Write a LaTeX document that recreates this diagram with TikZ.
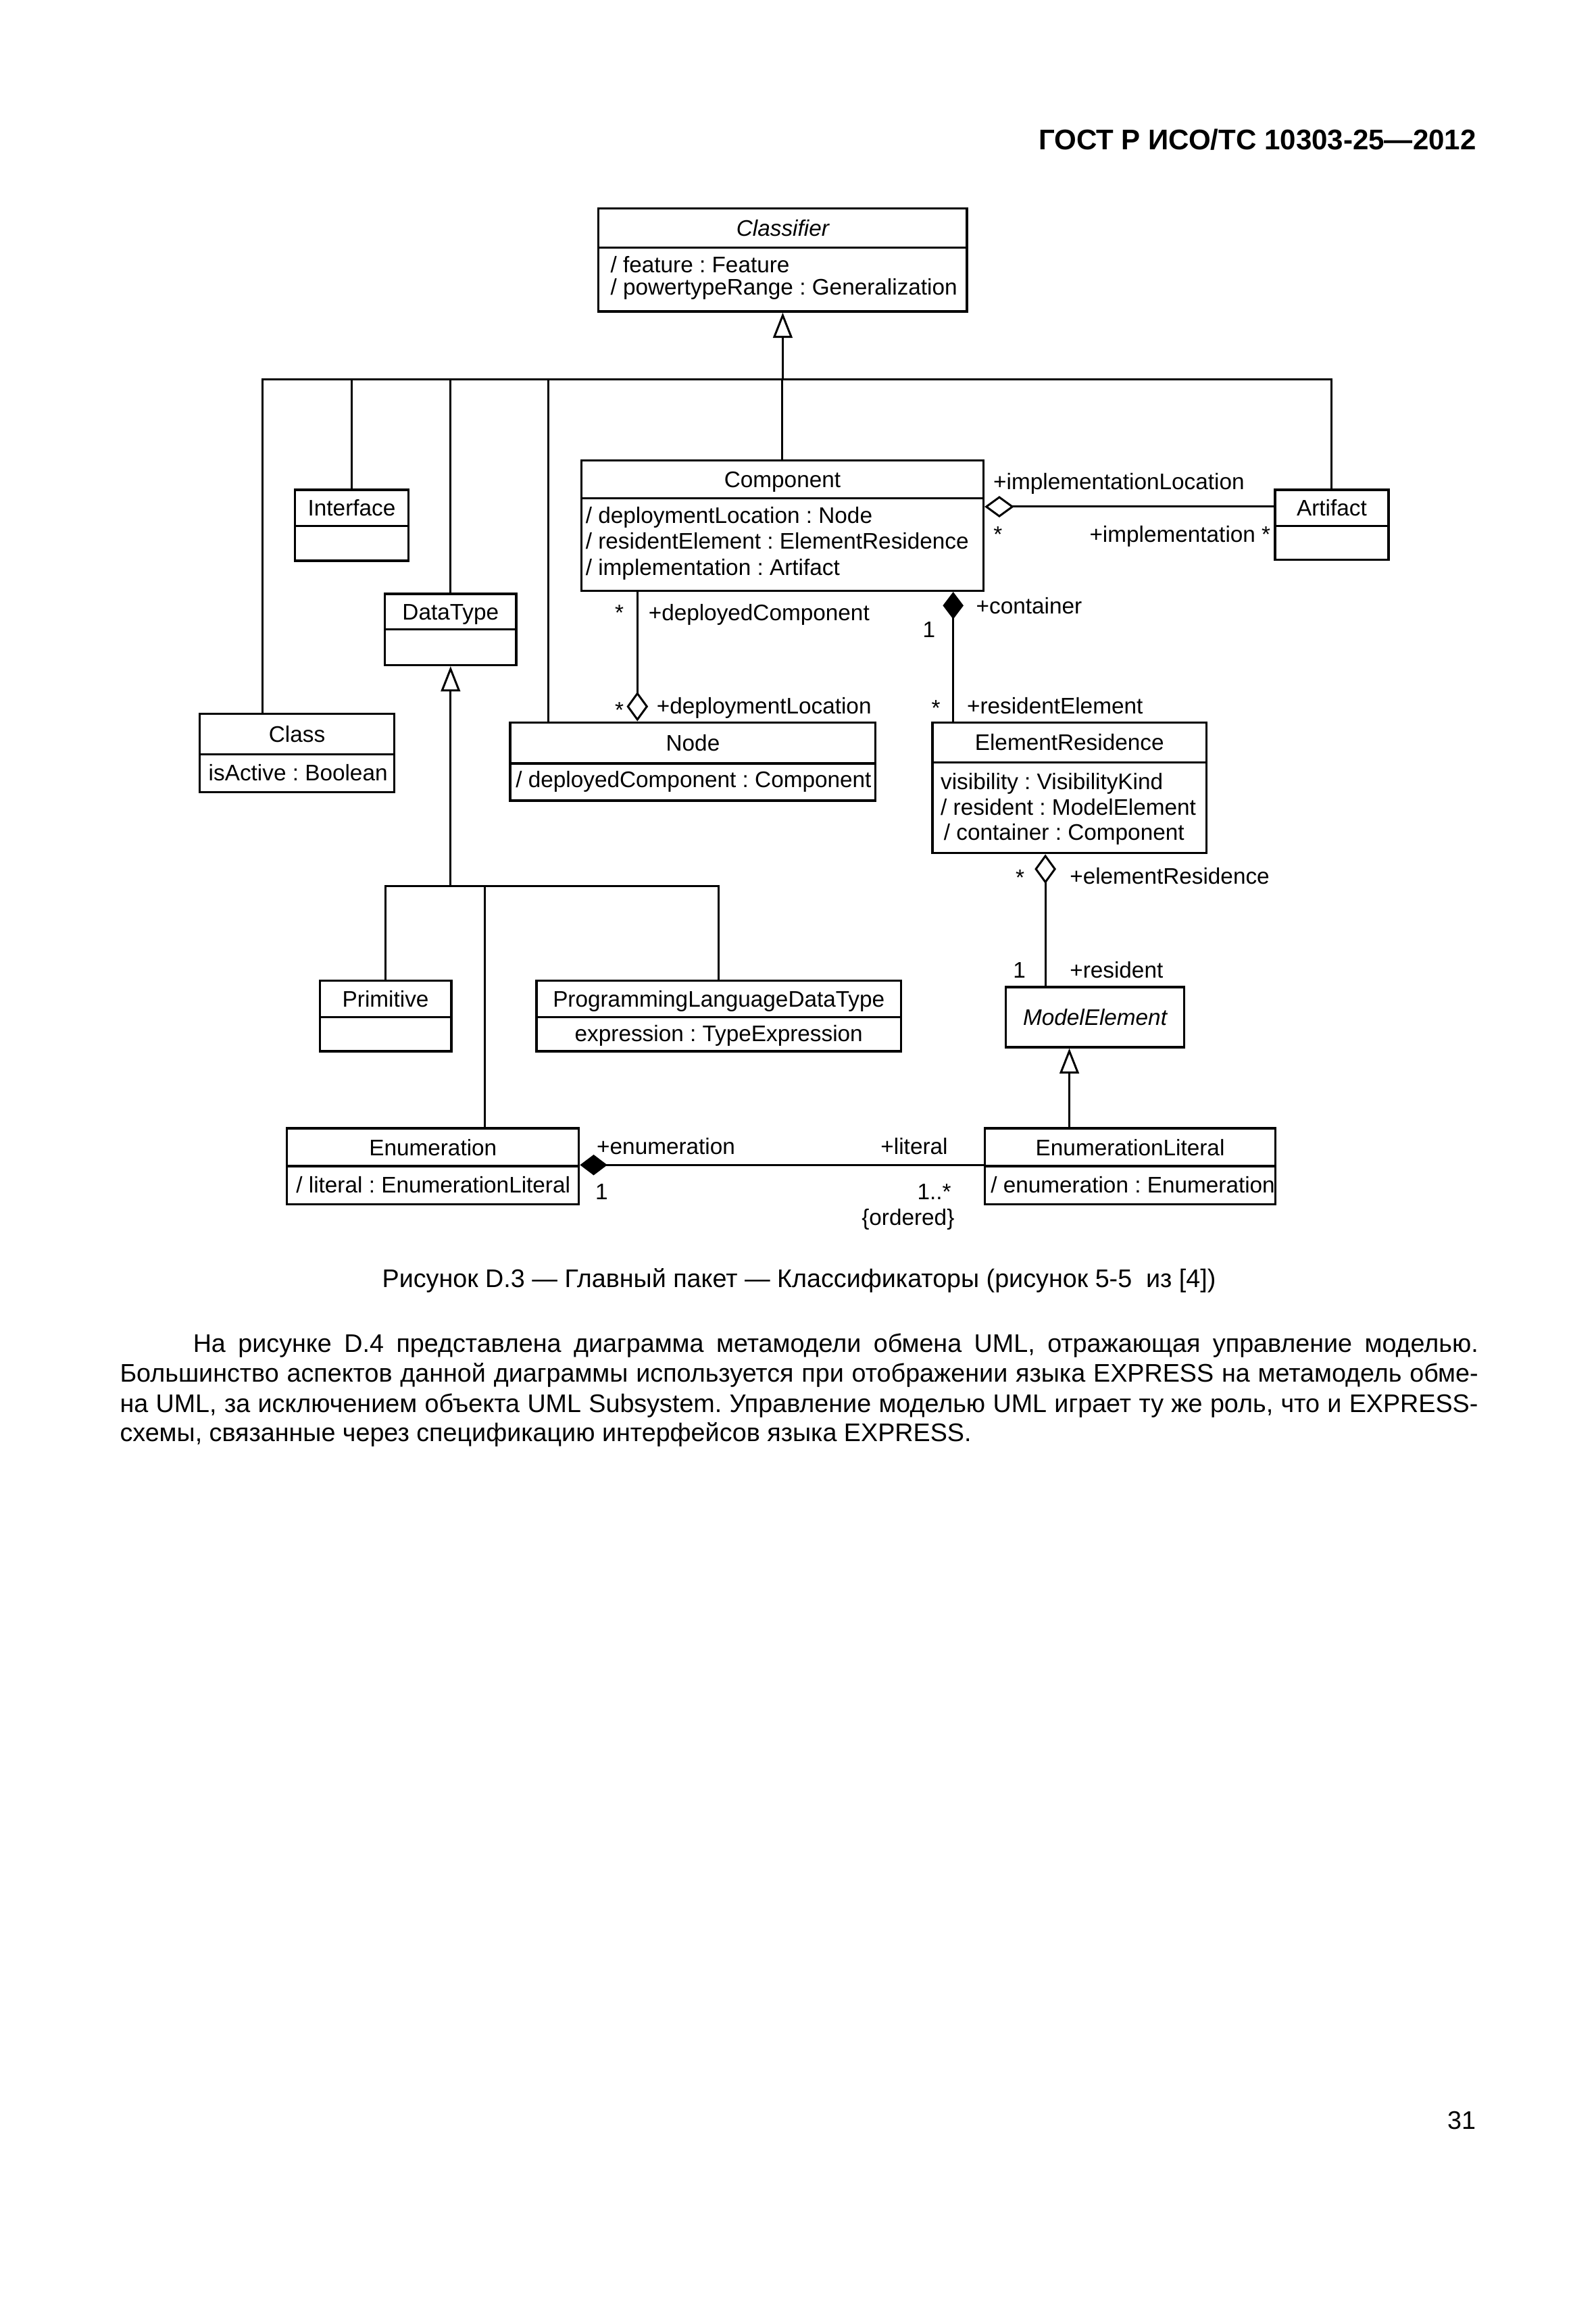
\documentclass[tikz,border=0pt]{standalone}
\usepackage{fontspec}
\setmainfont{Liberation Sans}
\usetikzlibrary{arrows.meta,fit,calc}
\newcommand\umlbox[6]{%
  \node[box, fit={(#2,#3) (#4,#5)}] (#1) {};
  \draw[line width=0.85pt] (#2,#6) -- (#4,#6);}
\frenchspacing
\begin{document}
\begin{tikzpicture}[x=0.5512pt,y=-0.5512pt,
  box/.style={draw, line width=0.85pt, inner sep=0pt},
  ln/.style={line width=0.75pt},
  lbl/.style={inner sep=0pt, font=\fontsize{8.4}{10}\selectfont\frenchspacing},
  body/.style={inner sep=0pt, font=\fontsize{9.5}{11}\selectfont\frenchspacing},
  genarrow/.style={-{Triangle[open,length=9.4pt,width=7.2pt]}},
  aggstart/.style={{Diamond[open,length=11pt,width=8pt]}-},
  aggend/.style={-{Diamond[open,length=11pt,width=8pt]}},
  compstart/.style={{Diamond[length=10.2pt,width=7.7pt]}-}]
\fill[white] (0,0) rectangle (1080,1566.1);
\useasboundingbox (0,0) rectangle (1080,1566.1);

% header
\node[inner sep=0pt, anchor=base east, font=\fontsize{10.6}{12}\selectfont\bfseries] (hdr) at (999.3,101.4) {ГОСТ Р ИСО/ТС 10303-25—2012};

% classes
\umlbox{classifier}{405.0}{141.0}{654.4}{210.8}{167.7}
\node[lbl, anchor=base] (classifier-t) at (529.7,159.9) {\itshape Classifier};
\node[lbl, anchor=base west] (classifier-a1) at (412.8,184.4) {/ feature : Feature};
\node[lbl, anchor=base west] (classifier-a2) at (412.8,199.7) {/ powertypeRange : Generalization};

\umlbox{interface}{199.5}{331.5}{276.4}{379.5}{355.9}
\node[lbl, anchor=base] (interface-t) at (238.0,349.2) {Interface};

\umlbox{component}{393.4}{311.7}{665.5}{399.8}{337.3}
\node[lbl, anchor=base] (component-t) at (529.5,330.0) {Component};
\node[lbl, anchor=base west] (component-a1) at (396.0,354.0) {/ deploymentLocation : Node};
\node[lbl, anchor=base west] (component-a2) at (396.0,371.7) {/ residentElement : ElementResidence};
\node[lbl, anchor=base west] (component-a3) at (396.0,389.4) {/ implementation : Artifact};

\umlbox{artifact}{862.8}{331.5}{939.6}{378.9}{355.9}
\node[lbl, anchor=base] (artifact-t) at (901.2,349.2) {Artifact};

\umlbox{datatype}{260.5}{401.9}{349.3}{450.1}{426.0}
\node[lbl, anchor=base] (datatype-t) at (304.9,419.5) {DataType};

\umlbox{class}{135.1}{483.2}{266.9}{536.2}{510.6}
\node[lbl, anchor=base] (class-t) at (201.0,502.4) {Class};
\node[lbl, anchor=base west] (class-a1) at (140.8,528.5) {isActive : Boolean};

\umlbox{nodebox}{345.2}{488.9}{592.5}{541.8}{516.7}
\node[lbl, anchor=base] (nodebox-t) at (468.9,508.3) {Node};
\node[lbl, anchor=base west] (nodebox-a1) at (348.7,533.0) {/ deployedComponent : Component};

\umlbox{elres}{631.0}{488.9}{816.4}{577.4}{515.9}
\node[lbl, anchor=base] (elres-t) at (723.7,507.9) {ElementResidence};
\node[lbl, anchor=base west] (elres-a1) at (636.2,534.2) {visibility : VisibilityKind};
\node[lbl, anchor=base west] (elres-a2) at (636.2,551.8) {/ resident : ModelElement};
\node[lbl, anchor=base west] (elres-a3) at (638.4,568.5) {/ container : Component};

\umlbox{primitive}{216.4}{663.8}{305.4}{711.5}{688.5}
\node[lbl, anchor=base] (primitive-t) at (260.9,681.7) {Primitive};

\umlbox{pldt}{363.1}{663.8}{609.6}{711.5}{688.5}
\node[lbl, anchor=base] (pldt-t) at (486.4,681.7) {ProgrammingLanguageDataType};
\node[lbl, anchor=base] (pldt-a1) at (486.4,705.0) {expression : TypeExpression};

\node[box, fit={(680.7,668.1) (801.4,708.7)}] (modelel) {};
\node[lbl, anchor=base] (modelel-t) at (741.0,693.9) {\itshape ModelElement};

\umlbox{enum}{194.2}{763.6}{391.7}{815.0}{789.2}
\node[lbl, anchor=base] (enum-t) at (293.0,781.9) {Enumeration};
\node[lbl, anchor=base west] (enum-a1) at (200.1,807.5) {/ literal : EnumerationLiteral};

\umlbox{enumlit}{666.5}{763.6}{863.1}{815.0}{789.2}
\node[lbl, anchor=base] (enumlit-t) at (764.8,781.9) {EnumerationLiteral};
\node[lbl, anchor=base west] (enumlit-a1) at (670.1,807.5) {/ enumeration : Enumeration};

% generalization buses
\coordinate (bus1) at (0,256.8);
\coordinate (bus2) at (0,599.8);
\draw[ln] ($(class.north west)+(43.3,0)$) |- (artifact.north |- bus1) -- (artifact.north);
\draw[ln,genarrow] (classifier.south |- bus1) -- (classifier.south);
\draw[ln] (interface.north) -- (interface.north |- bus1);
\draw[ln] (datatype.north) -- (datatype.north |- bus1);
\draw[ln] ($(nodebox.north west)+(26.6,0)$) coordinate (nv) -- (nv |- bus1);
\draw[ln] (component.north) -- (component.north |- bus1);

\draw[ln] (primitive.north) |- (pldt.north |- bus2) -- (pldt.north);
\draw[ln,genarrow] (datatype.south |- bus2) -- (datatype.south);
\draw[ln] ($(enum.north west)+(134.7,0)$) coordinate (ev) -- (ev |- bus2);

\draw[ln,genarrow] ($(enumlit.north west)+(57.9,0)$) coordinate (elg) -- (elg |- modelel.south);

% associations
\draw[ln,aggstart] ($(component.north east)+(0,32.0)$) coordinate (ca) -- (ca -| artifact.west);
\draw[ln,aggend] ($(component.south west)+(38.7,0)$) coordinate (cn) -- (cn |- nodebox.north);
\draw[ln,compstart] ($(component.south west)+(252.4,0)$) coordinate (ce) -- (ce |- elres.north);
\draw[ln,aggstart] ($(elres.south west)+(77.2,0)$) coordinate (em) -- (em |- modelel.north);
\draw[ln,compstart] ($(enum.north east)+(0,25.6)$) coordinate (ee) -- (ee -| enumlit.west);

% association labels
\node[lbl, anchor=base west] (l1) at (671.9,331.5) {+implementationLocation};
\node[lbl, anchor=base west] (l2) at (672.0,367.0) {*};
\node[lbl, anchor=base east] (l3) at (860.1,367.0) {+implementation *};
\node[lbl, anchor=base east] (l4) at (422.5,420.0) {*};
\node[lbl, anchor=base west] (l5) at (438.5,420.0) {+deployedComponent};
\node[lbl, anchor=base east] (l6) at (422.5,486.0) {*};
\node[lbl, anchor=base west] (l7) at (444.0,483.3) {+deploymentLocation};
\node[lbl, anchor=base west] (l8) at (660.2,415.5) {+container};
\node[lbl, anchor=base] (l9) at (628.7,431.5) {1};
\node[lbl, anchor=base] (l10) at (633.3,484.5) {*};
\node[lbl, anchor=base west] (l11) at (654.0,483.3) {+residentElement};
\node[lbl, anchor=base] (l12) at (690.3,599.0) {*};
\node[lbl, anchor=base west] (l13) at (723.6,598.4) {+elementResidence};
\node[lbl, anchor=base] (l14) at (689.8,661.7) {1};
\node[lbl, anchor=base west] (l15) at (723.6,661.7) {+resident};
\node[lbl, anchor=base west] (l16) at (403.5,781.3) {+enumeration};
\node[lbl, anchor=base west] (l17) at (402.5,811.8) {1};
\node[lbl, anchor=base east] (l18) at (641.7,781.3) {+literal};
\node[lbl, anchor=base east] (l19) at (644.0,811.8) {1..*};
\node[lbl, anchor=base east] (l20) at (646.2,829.0) {\{ordered\}};

% caption and text
\node[body, anchor=base] (cap) at (540.7,871.1) {Рисунок D.3 — Главный пакет — Классификаторы (рисунок 5-5\ \ из [4])};
\node[body, anchor=base west] (p1) at (130.3,915.3) {\makebox[479.4pt][s]{На рисунке D.4 представлена диаграмма метамодели обмена UML, отражающая управление моделью.}};
\node[body, anchor=base west] (p2) at (80.8,935.1) {\makebox[506.6pt][s]{Большинство аспектов данной диаграммы используется при отображении языка EXPRESS на метамодель обме-}};
\node[body, anchor=base west] (p3) at (80.8,955.7) {\makebox[506.6pt][s]{на UML, за исключением объекта UML Subsystem. Управление моделью UML играет ту же роль, что и EXPRESS-}};
\node[body, anchor=base west] (p4) at (80.8,975.5) {схемы, связанные через спецификацию интерфейсов языка EXPRESS.};

\node[body, anchor=base east] (pg) at (999.0,1441.0) {31};
\end{tikzpicture}
\end{document}
